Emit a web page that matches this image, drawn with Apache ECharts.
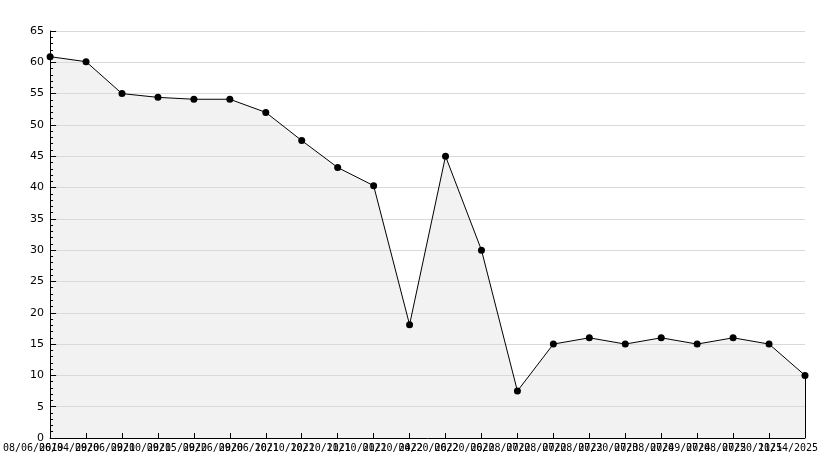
<!DOCTYPE html>
<html>
<head>
<meta charset="utf-8">
<script src="https://cdn.jsdelivr.net/npm/echarts@6/dist/echarts.min.js"></script>
<style>
  html, body { margin: 0; padding: 0; background: #fff; }
  #chart { width: 834px; height: 468px; }
</style>
</head>
<body>
<div id="chart"></div>
<script>
// dates along the x axis (labels overlap in the original too)
const dates = [
  '08/06/2019', '06/04/2020', '09/06/2020', '09/10/2020', '09/15/2020', '09/26/2020',
  '09/06/2021', '10/10/2021', '10/20/2021', '11/10/2021', '01/20/2022', '04/20/2022',
  '06/20/2022', '06/08/2022', '07/08/2022', '07/08/2023', '07/20/2023', '07/08/2024',
  '07/09/2024', '07/08/2025', '07/20/2025', '11/14/2025'
]
const values = [
  60.9, 60.1, 55.0, 54.4, 54.1, 54.1, 52.0, 47.5, 43.2, 40.3, 18.1, 45.0,
  30.0, 7.5, 15.0, 16.0, 15.0, 16.0, 15.0, 16.0, 15.0, 10.0
]
const yMin = 0
const yMax = 65
const yStep = 5

const font = 'DejaVu Sans Mono'
const chart = echarts.init(document.getElementById('chart'))

const option = {
  animation: false,
  backgroundColor: '#fff',
  grid: { left: 50, right: 29, top: 31, bottom: 30, containLabel: false },
  xAxis: {
    type: 'category',
    z: 3,
    boundaryGap: false,
    data: dates,
    axisLine: { lineStyle: { color: '#000', width: 1 } },
    axisTick: { inside: true, length: 5, alignWithLabel: true, lineStyle: { color: '#000' } },
    axisLabel: {
      interval: 0,
      color: '#000',
      fontFamily: font,
      fontSize: 10,
      margin: 5,
      align: 'center',
      padding: [0, 34, 0, 0]
    },
    splitLine: { show: false }
  },
  yAxis: {
    type: 'value',
    z: 3,
    min: yMin,
    max: yMax,
    interval: yStep,
    axisLine: { show: true, lineStyle: { color: '#000', width: 1 } },
    axisTick: { show: true, inside: true, length: 6, lineStyle: { color: '#000' } },
    minorTick: { show: true, splitNumber: 5, length: 3, lineStyle: { color: '#000' } },
    axisLabel: { color: '#000', fontFamily: 'DejaVu Sans', fontSize: 11, margin: 6 },
    splitLine: { show: true, lineStyle: { color: '#d9d9d9', width: 1 } }
  },
  series: [
    {
      // grey fill under the line, below the grid lines
      type: 'line',
      z: 1,
      data: values,
      symbol: 'none',
      silent: true,
      lineStyle: { width: 0 },
      areaStyle: { color: '#f2f2f2', opacity: 1 },
      markLine: {
        silent: true,
        symbol: 'none',
        label: { show: false },
        lineStyle: { color: '#000', width: 1, type: 'solid' },
        data: [[
          { coord: [dates.length - 1, 0] },
          { coord: [dates.length - 1, values[values.length - 1]] }
        ]]
      }
    },
    {
      type: 'line',
      z: 5,
      data: values,
      symbol: 'circle',
      symbolSize: 7,
      itemStyle: { color: '#000' },
      lineStyle: { color: '#000', width: 1 }
    }
  ]
}
option && chart.setOption(option)
</script>
</body>
</html>
